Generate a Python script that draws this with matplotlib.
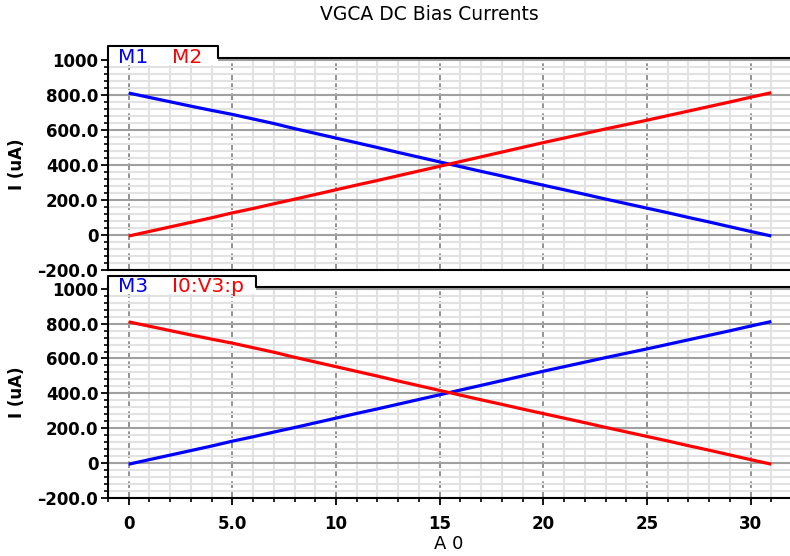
import numpy as np
import matplotlib
matplotlib.use('Agg')
import matplotlib.pyplot as plt
from matplotlib.ticker import MultipleLocator

# sweep index A0 and the four bias currents (uA)
a0 = list(range(32))
m1 = [810, 785, 760, 735, 711, 688, 662, 636, 607, 580, 553, 526, 499, 471, 444, 417,
      390, 363, 337, 310, 284, 258, 232, 205, 179, 153, 127, 100, 74, 47, 20, -6]
m2 = [-6, 20, 46, 72, 98, 126, 151, 178, 204, 231, 258, 285, 311, 338, 365, 392,
      419, 446, 473, 500, 527, 553, 579, 605, 630, 655, 681, 707, 733, 759, 786, 812]
m3 = [-6, 20, 46, 72, 98, 126, 151, 178, 204, 231, 258, 285, 311, 338, 365, 392,
      419, 446, 473, 500, 527, 553, 579, 605, 630, 655, 681, 707, 733, 759, 786, 812]
v3p = [810, 785, 760, 735, 711, 688, 662, 636, 607, 580, 553, 526, 499, 471, 444, 417,
       390, 363, 337, 310, 284, 258, 232, 205, 179, 153, 127, 100, 74, 47, 20, -6]

yticks = [-200, 0, 200, 400, 600, 800, 1000]
ylabels = ['\u2013200.0', '0', '200.0', '400.0', '600.0', '800.0', '1000']
xticks = [0, 5, 10, 15, 20, 25, 30]
xlabels = ['0', '5.0', '10', '15', '20', '25', '30']

W, H = 790, 556
fig = plt.figure(figsize=(7.9, 5.56), dpi=100)

left = 108 / W
width = 1 - left
ax1 = fig.add_axes([left, 1 - 270 / H, width, 212 / H])
ax2 = fig.add_axes([left, 1 - 498 / H, width, 211 / H])


def style(ax, series, names, tabw):
    ax.set_xlim(-1.0, 31.9)
    ax.set_ylim(-200, 1010)
    ax.xaxis.set_major_locator(MultipleLocator(5))
    ax.xaxis.set_minor_locator(MultipleLocator(1))
    ax.yaxis.set_major_locator(MultipleLocator(200))
    ax.yaxis.set_minor_locator(MultipleLocator(40))
    ax.grid(which='minor', color='#e2e2e2', lw=1.5)
    ax.grid(which='major', axis='y', color='#a0a0a0', lw=1.5)
    ax.grid(which='major', axis='x', color='#808080', lw=1.2, ls=(0, (4, 2)))
    ax.set_axisbelow(True)
    ax.set_yticks(yticks)
    ax.set_yticklabels(ylabels, fontsize=12, fontweight='bold')
    ax.tick_params(axis='y', which='major', length=5, width=1.3, pad=2)
    ax.tick_params(axis='y', which='minor', length=3, width=1.2)
    for s in ['top', 'right']:
        ax.spines[s].set_visible(False)
    ax.spines['left'].set_linewidth(1.5)
    ax.spines['bottom'].set_linewidth(1.5)
    for (y, c) in series:
        ax.plot(a0, y, color=c, lw=2.3, solid_capstyle='butt', zorder=3)
    ax.set_ylabel('I (uA)', fontsize=12, fontweight='bold', labelpad=8)
    # legend tab on top left
    h = 11.5 / 212
    below = 7 / 212
    ax.add_patch(plt.Rectangle((0, 1 - below), tabw, below + h, transform=ax.transAxes,
                               facecolor='white', edgecolor='none', clip_on=False, zorder=2))
    ax.plot([0, 0, tabw, tabw, 1], [1, 1 + h, 1 + h, 1, 1], transform=ax.transAxes,
            color='black', lw=1.5, clip_on=False, zorder=4)
    xs = [10 / 682, 64 / 682]
    for (nm, c), xx in zip(names, xs):
        ax.text(xx, 1 - 5 / 212, nm, color=c, fontsize=14.5, transform=ax.transAxes,
                va='baseline', ha='left', zorder=5)


style(ax1, [(m1, 'blue'), (m2, 'red')], [('M1', 'blue'), ('M2', 'red')], 110 / 682)
style(ax2, [(m3, 'blue'), (v3p, 'red')], [('M3', 'blue'), ('I0:V3:p', 'red')], 148 / 682)

ax1.tick_params(axis='x', which='both', length=0, labelbottom=False)
ax2.set_xticks(xticks)
ax2.set_xticklabels(xlabels, fontsize=12, fontweight='bold')
ax2.tick_params(axis='x', which='major', length=5, width=1.3, pad=7)
ax2.tick_params(axis='x', which='minor', length=3, width=1.2)
ax2.set_xlabel('A 0', fontsize=13, labelpad=2)

fig.text(429 / W, 1 - 15 / H, 'VGCA DC Bias Currents', fontsize=13.5, ha='center', va='center')

fig.savefig('out.png', dpi=100)
